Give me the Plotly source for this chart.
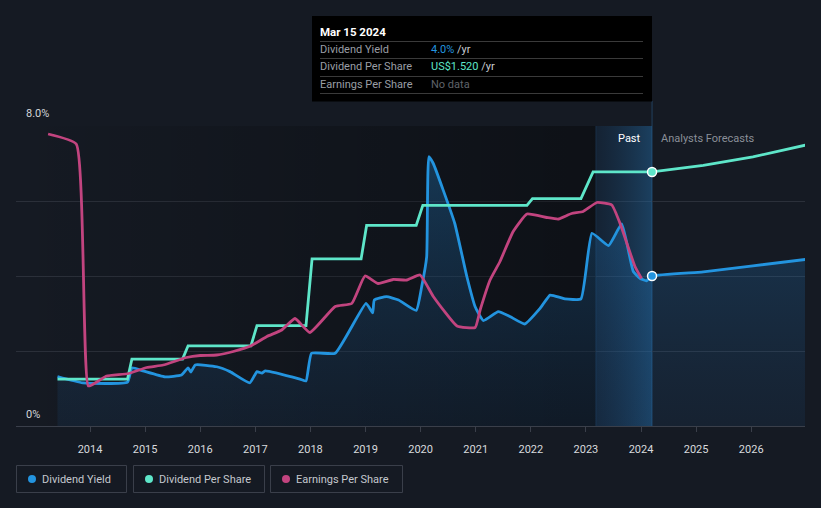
import plotly.graph_objects as go

# ---------------- data (decimal years) ----------------
yield_years = [2013.41, 2013.87, 2014.68, 2014.76, 2014.96, 2015.36, 2015.66, 2015.78, 2015.83, 2015.91,
               2016.30, 2016.54, 2016.90, 2017.03, 2017.12, 2017.18, 2017.81, 2017.92, 2018.02, 2018.45,
               2019.01, 2019.13, 2019.16, 2019.38, 2019.60, 2019.92, 2020.02, 2020.11, 2020.15, 2020.23,
               2020.41, 2020.62, 2020.84, 2020.99, 2021.14, 2021.41, 2021.62, 2021.89, 2022.17, 2022.35,
               2022.53, 2022.62, 2022.91, 2023.11, 2023.41, 2023.65, 2023.86, 2023.98, 2024.10, 2024.20,
               2025.13, 2026.03, 2026.98]
yield_pct = [1.32, 1.15, 1.17, 1.55, 1.47, 1.31, 1.36, 1.55, 1.44, 1.63,
             1.58, 1.45, 1.15, 1.45, 1.41, 1.47, 1.25, 1.20, 1.94, 1.94,
             3.27, 3.02, 3.36, 3.45, 3.36, 3.08, 3.72, 4.51, 7.18, 7.00,
             6.29, 5.40, 3.98, 3.18, 2.81, 3.05, 2.92, 2.72, 3.14, 3.49,
             3.43, 3.39, 3.39, 5.14, 4.81, 5.39, 4.12, 3.94, 3.87, 4.00,
             4.11, 4.27, 4.44]

dps_years = [2013.41, 2014.68, 2014.76, 2015.68, 2015.78, 2016.92, 2017.03, 2017.92, 2018.03, 2018.92,
             2019.02, 2019.92, 2020.04, 2021.93, 2022.03, 2022.91, 2023.13, 2024.20, 2025.13, 2026.03,
             2026.98]
dps_usd = [0.28, 0.28, 0.40, 0.40, 0.48, 0.48, 0.60, 0.60, 1.00, 1.00,
           1.20, 1.20, 1.32, 1.32, 1.36, 1.36, 1.52, 1.52, 1.56, 1.61,
           1.68]

eps_years = [2013.24, 2013.75, 2013.97, 2014.18, 2014.30, 2014.70, 2015.03, 2015.33, 2015.75, 2016.00,
             2016.30, 2016.60, 2016.93, 2017.21, 2017.48, 2017.72, 2017.99, 2018.45, 2018.75, 2018.99,
             2019.23, 2019.50, 2019.75, 2019.99, 2020.23, 2020.66, 2020.99, 2021.08, 2021.26, 2021.44,
             2021.68, 2021.93, 2022.29, 2022.50, 2022.74, 2022.95, 2023.20, 2023.47, 2023.62, 2023.89,
             2024.01]
eps_usd = [5.84, 5.64, 0.80, 0.92, 1.00, 1.05, 1.17, 1.22, 1.37, 1.41,
           1.42, 1.49, 1.61, 1.79, 1.92, 2.15, 1.87, 2.39, 2.45, 3.00,
           2.85, 2.93, 2.92, 3.02, 2.59, 2.00, 1.97, 2.32, 2.92, 3.29,
           3.89, 4.24, 4.17, 4.14, 4.25, 4.29, 4.47, 4.42, 4.05, 3.19,
           2.95]

tick_years = list(range(2014, 2027))
tick_labels = [str(y) for y in tick_years]

today = 2024.20
past_start = 2023.18
x_min, x_max = 2012.657, 2026.976

# ---------------- colours ----------------
BG = "#151a23"
BLUE = "#2394df"
TEAL = "#5ee6c9"
PINK = "#c2447f"
GRID = "#2b303a"

# pixel -> paper helpers (plot area: x 16..805, y 126..426)
L, R, T, B = 16, 805, 126, 426
def px(x):
    return (x - L) / (R - L)
def py(y):
    return (B - y) / (B - T)

fig = go.Figure()

# darkening gradient over the past
fig.add_trace(go.Scatter(
    x=[x_min, past_start, past_start, x_min, x_min], y=[0, 0, 8, 8, 0],
    mode="lines", line=dict(width=0), fill="toself",
    fillgradient=dict(type="horizontal",
                      colorscale=[[0, "rgba(0,0,0,0)"], [1, "rgba(0,0,0,0.36)"]]),
    hoverinfo="skip", showlegend=False))

# past band gradient
fig.add_trace(go.Scatter(
    x=[past_start, today, today, past_start, past_start], y=[0, 0, 8, 8, 0],
    mode="lines", line=dict(width=0), fill="toself",
    fillgradient=dict(type="horizontal",
                      colorscale=[[0, "rgba(20,60,100,0.25)"], [1, "rgba(35,110,170,0.45)"]]),
    hoverinfo="skip", showlegend=False))

# dividend yield
fig.add_trace(go.Scatter(
    x=yield_years, y=yield_pct, mode="lines",
    line=dict(color=BLUE, width=2.8, shape="spline", smoothing=0.4),
    fill="tozeroy",
    fillgradient=dict(type="vertical",
                      colorscale=[[0, "rgba(30,90,150,0.12)"], [1, "rgba(35,140,220,0.30)"]]),
    name="Dividend Yield", showlegend=False))

# earnings per share
fig.add_trace(go.Scatter(
    x=eps_years, y=eps_usd, mode="lines", yaxis="y3",
    line=dict(color=PINK, width=2.8, shape="spline", smoothing=0.4),
    name="Earnings Per Share", showlegend=False))

# dividend per share
fig.add_trace(go.Scatter(
    x=dps_years, y=dps_usd, mode="lines", yaxis="y2",
    line=dict(color=TEAL, width=2.8),
    name="Dividend Per Share", showlegend=False))

# markers at today
fig.add_trace(go.Scatter(
    x=[today], y=[yield_pct[yield_years.index(today)]], mode="markers",
    marker=dict(color=BLUE, size=9, line=dict(color="white", width=1.5)),
    showlegend=False, hoverinfo="skip", cliponaxis=False))
fig.add_trace(go.Scatter(
    x=[today], y=[dps_usd[dps_years.index(today)]], mode="markers", yaxis="y2",
    marker=dict(color=TEAL, size=9, line=dict(color="white", width=1.5)),
    showlegend=False, hoverinfo="skip", cliponaxis=False))

shapes = [
    # faint line at past-band start
    dict(type="line", xref="x", yref="paper", x0=past_start, x1=past_start, y0=0, y1=1,
         line=dict(color="rgba(40,80,120,0.5)", width=1), layer="below"),
    # today line
    dict(type="line", xref="x", yref="paper", x0=today, x1=today, y0=0, y1=py(101),
         line=dict(color="#22405e", width=1), layer="below"),
    # tooltip box
    dict(type="rect", xref="paper", yref="paper", x0=px(312), x1=px(652), y0=py(101.5), y1=py(16),
         fillcolor="#000000", line=dict(width=0)),
]
for sy in [41.5, 58.5, 76.5, 93.5]:
    shapes.append(dict(type="line", xref="paper", yref="paper", x0=px(320), x1=px(643),
                       y0=py(sy), y1=py(sy), line=dict(color="#3a3a3a", width=1)))

# legend boxes
legend_items = [("Dividend Yield", BLUE, 16, 127), ("Dividend Per Share", TEAL, 133, 265),
                ("Earnings Per Share", PINK, 270, 403)]
annotations = []
for label, col, bx0, bx1 in legend_items:
    shapes.append(dict(type="rect", xref="paper", yref="paper", x0=px(bx0 + 0.5), x1=px(bx1 - 0.5),
                       y0=py(465.5), y1=py(492.5), line=dict(color="#3a3f4a", width=1),
                       fillcolor="rgba(0,0,0,0)"))
    cx = bx0 + 16
    shapes.append(dict(type="circle", xref="paper", yref="paper", x0=px(cx - 4), x1=px(cx + 4),
                       y0=py(483), y1=py(475), fillcolor=col, line=dict(width=0)))
    annotations.append(dict(xref="paper", yref="paper", x=px(cx + 8), y=py(479), text=label,
                            showarrow=False, xanchor="left", yanchor="middle",
                            font=dict(size=11, color="#c4c8ce", family="Roboto")))

TXT = dict(family="Roboto")
annotations += [
    dict(xref="paper", yref="paper", x=px(24), y=py(114), text="8.0%", showarrow=False,
         xanchor="left", yanchor="middle", font=dict(size=11, color="#d4d6da", **TXT)),
    dict(xref="paper", yref="paper", x=px(24), y=py(414), text="0%", showarrow=False,
         xanchor="left", yanchor="middle", font=dict(size=11, color="#d4d6da", **TXT)),
    dict(xref="paper", yref="paper", x=px(643), y=py(138), text="Past", showarrow=False,
         xanchor="right", yanchor="middle", font=dict(size=11, color="#ffffff", **TXT)),
    dict(xref="paper", yref="paper", x=px(659), y=py(138), text="Analysts Forecasts", showarrow=False,
         xanchor="left", yanchor="middle", font=dict(size=11, color="#8a8f98", **TXT)),
    dict(xref="paper", yref="paper", x=px(318), y=py(31.5), text="<b>Mar 15 2024</b>", showarrow=False,
         xanchor="left", yanchor="middle", font=dict(size=11.5, color="#ffffff", **TXT)),
    dict(xref="paper", yref="paper", x=px(318), y=py(49.5), text="Dividend Yield", showarrow=False,
         xanchor="left", yanchor="middle", font=dict(size=11, color="#9a9ea5", **TXT)),
    dict(xref="paper", yref="paper", x=px(318), y=py(66.5), text="Dividend Per Share", showarrow=False,
         xanchor="left", yanchor="middle", font=dict(size=11, color="#9a9ea5", **TXT)),
    dict(xref="paper", yref="paper", x=px(318), y=py(84), text="Earnings Per Share", showarrow=False,
         xanchor="left", yanchor="middle", font=dict(size=11, color="#9a9ea5", **TXT)),
    dict(xref="paper", yref="paper", x=px(429), y=py(49.5),
         text="<span style='color:%s'>4.0%%</span> /yr" % BLUE, showarrow=False,
         xanchor="left", yanchor="middle", font=dict(size=11, color="#c8ccd2", **TXT)),
    dict(xref="paper", yref="paper", x=px(429), y=py(66.5),
         text="<span style='color:%s'>US$1.520</span> /yr" % TEAL, showarrow=False,
         xanchor="left", yanchor="middle", font=dict(size=11, color="#c8ccd2", **TXT)),
    dict(xref="paper", yref="paper", x=px(429), y=py(84), text="No data", showarrow=False,
         xanchor="left", yanchor="middle", font=dict(size=11, color="#5f636a", **TXT)),
]

fig.update_layout(
    width=821, height=508,
    margin=dict(l=L, r=821 - R, t=T, b=508 - B),
    paper_bgcolor=BG, plot_bgcolor=BG,
    showlegend=False,
    font=dict(family="Roboto", color="#d4d6da", size=11),
    xaxis=dict(range=[x_min, x_max], tickvals=tick_years, ticktext=tick_labels,
               showgrid=False, zeroline=False, showline=True, linecolor="#3a3f4a", linewidth=1,
               ticks="outside", ticklen=5, tickcolor="#3a3f4a", ticklabelstandoff=8,
               tickfont=dict(size=11, color="#d8dade")),
    yaxis=dict(range=[0, 8], dtick=2, showgrid=True, gridcolor=GRID, gridwidth=1,
               zeroline=False, showticklabels=False, fixedrange=True),
    yaxis2=dict(range=[0, 1.795], overlaying="y", visible=False, showgrid=False),
    yaxis3=dict(range=[0, 6.0], overlaying="y", visible=False, showgrid=False),
    shapes=shapes,
    annotations=annotations,
)

fig.write_html(
    "out.html",
    config={"displayModeBar": False},
    post_script="document.body.style.margin='0';document.body.style.padding='0';"
                "document.body.style.background='%s';document.body.style.overflow='hidden';" % BG,
)
